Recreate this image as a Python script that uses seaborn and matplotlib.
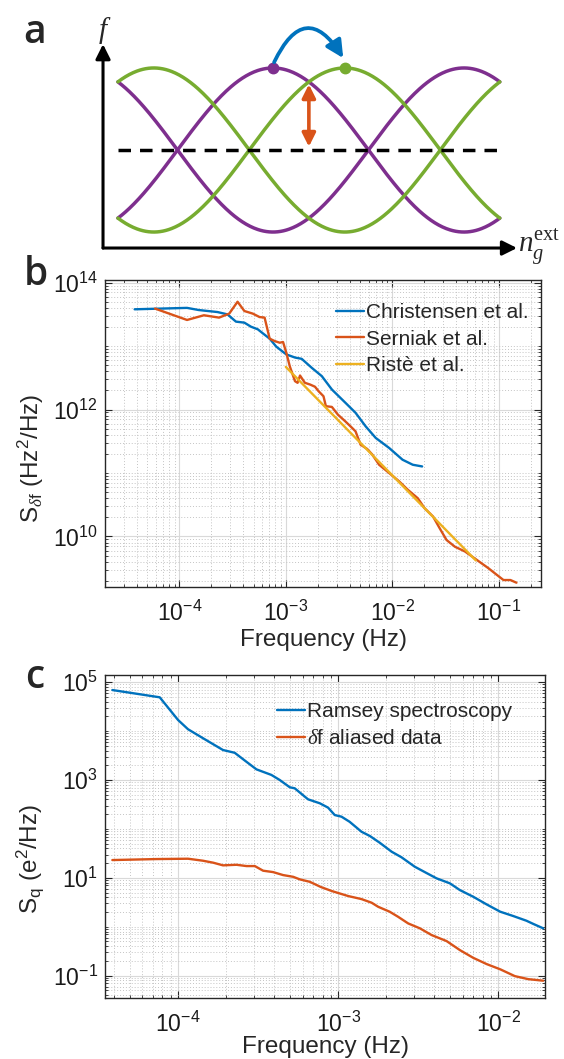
import numpy as np
import pandas as pd
import matplotlib
matplotlib.use("Agg")
import matplotlib.pyplot as plt
import seaborn as sns
from matplotlib.patches import FancyArrowPatch
from matplotlib.ticker import FixedLocator, LogLocator, LogFormatterSciNotation, NullFormatter

# ---------------- data ----------------
# (b) frequency-noise spectra
christensen_f = [3.8e-5, 1.18e-4, 1.52e-4, 2.28e-4, 2.83e-4, 3.4e-4, 4.08e-4, 4.71e-4,
                 5.45e-4, 6.08e-4, 7.05e-4, 8.14e-4, 1.01e-3, 1.22e-3, 1.41e-3, 1.75e-3,
                 2.18e-3, 2.71e-3, 3.63e-3, 4.52e-3, 5.62e-3, 7.0e-3, 9.36e-3, 1.25e-2,
                 1.56e-2, 1.91e-2]
christensen_s = [3.8e13, 4.0e13, 3.7e13, 3.44e13, 3.16e13, 2.43e13, 2.34e13, 2.02e13,
                 1.84e13, 1.59e13, 1.31e13, 9.8e12, 7.4e12, 6.6e12, 6.3e12, 4.56e12,
                 3.36e12, 2.07e12, 1.28e12, 8.9e11, 5.45e11, 3.57e11, 2.48e11, 1.62e11,
                 1.35e11, 1.27e11]

serniak_f = [5.9e-5, 1.18e-4, 1.70e-4, 2.36e-4, 2.94e-4, 3.52e-4, 4.08e-4, 4.89e-4,
             5.66e-4, 6.32e-4, 7.05e-4, 7.86e-4, 8.77e-4, 9.42e-4, 1.01e-3, 1.09e-3,
             1.22e-3, 1.29e-3, 1.36e-3, 1.51e-3, 1.69e-3, 1.88e-3, 2.03e-3, 2.26e-3,
             2.38e-3, 2.71e-3, 3.09e-3, 3.63e-3, 4.05e-3, 4.52e-3, 5.04e-3, 5.82e-3,
             6.5e-3, 7.53e-3, 9.36e-3, 1.16e-2, 1.40e-2, 1.74e-2, 2.01e-2, 2.42e-2,
             2.79e-2, 3.24e-2, 3.88e-2, 4.83e-2, 6.24e-2, 8.04e-2, 9.66e-2, 0.111,
             0.129, 0.147]
serniak_s = [3.9e13, 2.58e13, 3.06e13, 2.81e13, 3.25e13, 5.0e13, 3.57e13, 3.25e13,
             2.87e13, 2.81e13, 1.31e13, 1.20e13, 1.13e13, 1.16e13, 7.9e12, 4.8e12,
             2.8e12, 2.64e12, 3.44e12, 2.64e12, 2.48e12, 2.29e12, 1.95e12, 1.62e12,
             1.13e12, 1.10e12, 8.3e11, 6.5e11, 5.45e11, 4.54e11, 2.8e11, 2.39e11,
             1.95e11, 1.35e11, 1.0e11, 7.4e10, 5.45e10, 4.0e10, 2.8e10, 2.06e10,
             1.35e10, 8.8e9, 6.9e9, 5.8e9, 4.27e9, 3.15e9, 2.47e9, 2.06e9,
             2.06e9, 1.87e9]

riste_f = [1.0e-3, 6.1e-2]
riste_s = [4.7e12, 4.2e9]

# (c) charge-noise spectra
ramsey_f = [3.89e-5, 7.69e-5, 1.0e-4, 1.155e-4, 1.47e-4, 1.91e-4, 2.26e-4, 2.67e-4,
            3.09e-4, 3.83e-4, 4.32e-4, 4.99e-4, 5.36e-4, 6.49e-4, 7.69e-4, 8.66e-4,
            9.53e-4, 1.05e-3, 1.18e-3, 1.40e-3, 1.58e-3, 1.82e-3, 2.16e-3, 2.49e-3,
            3.01e-3, 3.48e-3, 4.12e-3, 4.99e-3, 5.76e-3, 6.98e-3, 8.46e-3, 1.03e-2,
            1.24e-2, 1.50e-2, 1.66e-2, 1.91e-2]
ramsey_s = [6.9e4, 4.9e4, 1.69e4, 1.09e4, 6.8e3, 4.1e3, 3.6e3, 2.37e3,
            1.65e3, 1.27e3, 1.0e3, 710, 676, 403, 334, 272,
            192, 178, 140, 87.6, 71.6, 52.2, 34.2, 26.3,
            16.9, 13.1, 9.77, 7.73, 5.63, 4.11, 2.87, 2.03,
            1.66, 1.33, 1.14, 0.93]

aliased_f = [3.89e-5, 7.33e-5, 1.155e-4, 1.43e-4, 1.66e-4, 1.91e-4, 2.32e-4, 2.68e-4,
             3.02e-4, 3.40e-4, 3.93e-4, 4.53e-4, 5.24e-4, 5.77e-4, 6.66e-4, 7.80e-4,
             9.14e-4, 1.155e-3, 1.40e-3, 1.62e-3, 1.78e-3, 2.10e-3, 2.37e-3, 2.74e-3,
             3.24e-3, 3.84e-3, 4.76e-3, 5.76e-3, 6.98e-3, 8.46e-3, 1.03e-2, 1.27e-2,
             1.54e-2, 1.91e-2]
aliased_s = [23.1, 24.2, 24.6, 22.4, 20.4, 18.0, 18.5, 17.4,
             17.4, 14.0, 13.1, 11.4, 10.5, 9.3, 8.3, 6.5,
             5.37, 4.25, 3.68, 3.1, 2.56, 2.03, 1.6, 1.17,
             0.93, 0.676, 0.51, 0.334, 0.232, 0.173, 0.135, 0.098,
             0.085, 0.079]

# (a) schematic: two parity bands, each a pair of cosine branches
band_names = ["purple", "green"]
band_peak = [0.406, 0.594]          # position of each band's upper maximum (in periods)
split_u = 0.5                       # where the splitting arrow is drawn

BLUE, ORANGE, YELLOW = "#0072BD", "#D95319", "#EDB120"
PURPLE, GREEN = "#7E2F8E", "#77AC30"
AXC = "#262626"

# ---------------- style ----------------
sns.set_theme(style="ticks")
plt.rcParams["font.family"] = ["Liberation Sans", "DejaVu Sans"]
plt.rcParams["mathtext.fontset"] = "custom"
plt.rcParams["mathtext.default"] = "regular"
plt.rcParams["mathtext.rm"] = "Liberation Serif"
plt.rcParams["mathtext.it"] = "Liberation Serif:italic"
plt.rcParams["axes.unicode_minus"] = False

W, H = 564, 1059
fig = plt.figure(figsize=(W / 100, H / 100), dpi=100)
fig.patch.set_facecolor("white")


def px_axes(left, top, right, bottom):
    return fig.add_axes([left / W, 1 - bottom / H, (right - left) / W, (bottom - top) / H])


def style_log_axes(ax, xlim, ylim, xmajor, ymajor):
    ax.set_xscale("log")
    ax.set_yscale("log")
    ax.set_xlim(xlim)
    ax.set_ylim(ylim)
    ax.set_facecolor("white")
    for axis, major in ((ax.xaxis, xmajor), (ax.yaxis, ymajor)):
        axis.set_major_locator(FixedLocator(major))
        axis.set_major_formatter(LogFormatterSciNotation())
        axis.set_minor_locator(LogLocator(base=10, subs=np.arange(1, 10), numticks=200))
        axis.set_minor_formatter(NullFormatter())
    ax.grid(which="major", color="#d9d9d9", lw=0.8, ls="-")
    ax.grid(which="minor", color="#c4c4c4", lw=0.7, ls=(0, (1, 2)))
    ax.set_axisbelow(True)
    ax.tick_params(which="both", direction="in", top=True, right=True,
                   color=AXC, labelcolor="#1a1a1a")
    ax.tick_params(which="major", length=5, width=0.8, labelsize=16.5)
    ax.tick_params(axis="x", which="major", pad=10)
    ax.tick_params(axis="y", which="major", pad=5)
    ax.tick_params(which="minor", length=2.5, width=0.6)
    for sp in ax.spines.values():
        sp.set_color(AXC)
        sp.set_linewidth(1.0)


def draw_series(ax, f, s, name, color, lw=1.7):
    df = pd.DataFrame({"Frequency": f, "S": s, "series": name})
    sns.lineplot(data=df, x="Frequency", y="S", ax=ax, color=color, lw=lw,
                 sort=False, estimator=None, label=name)


# ---------------- (a) schematic ----------------
ax_a = px_axes(95, 40, 530, 260)
ax_a.set_xlim(-0.060, 1.079)
ax_a.set_ylim(-1.341, 1.341)
ax_a.axis("off")

u = np.linspace(0.0, 1.0, 400)
band_colors = {"purple": PURPLE, "green": GREEN}
rows = []
for name, u0 in zip(band_names, band_peak):
    upper = np.cos(2 * np.pi * (u - u0))
    rows.append(pd.DataFrame({"u": u, "f": upper, "branch": name + "+", "band": name}))
    rows.append(pd.DataFrame({"u": u, "f": -upper, "branch": name + "-", "band": name}))
bands = pd.concat(rows, ignore_index=True)
sns.lineplot(data=bands, x="u", y="f", hue="band", units="branch", estimator=None,
             palette=band_colors, lw=2.5, sort=False, legend=False, ax=ax_a)

ax_a.plot([0, 1], [0, 0], color="black", lw=2.5, ls=(0, (3.6, 2.6)))

# coordinate arrows
y_axis_u, x_axis_f = -0.039, -1.195
ax_a.annotate("", xy=(y_axis_u, 1.29), xytext=(y_axis_u, x_axis_f),
              arrowprops=dict(arrowstyle="-|>", color="black", lw=2.2, mutation_scale=22,
                              shrinkA=0, shrinkB=0), annotation_clip=False)
ax_a.annotate("", xy=(1.045, x_axis_f), xytext=(y_axis_u, x_axis_f),
              arrowprops=dict(arrowstyle="-|>", color="black", lw=2.2, mutation_scale=22,
                              shrinkA=0, shrinkB=0), annotation_clip=False)

# band maxima
ax_a.plot([band_peak[0]], [1], "o", color=PURPLE, ms=7.5, zorder=5)
ax_a.plot([band_peak[1]], [1], "o", color=GREEN, ms=7.5, zorder=5)

# parity switch arrow
hop = FancyArrowPatch((band_peak[0] + 0.003, 1.07), (band_peak[1] - 0.004, 1.12),
                      connectionstyle="arc3,rad=-0.9", arrowstyle="-|>",
                      mutation_scale=26, lw=2.7, color=BLUE, shrinkA=0, shrinkB=0,
                      zorder=6, clip_on=False)
ax_a.add_patch(hop)

# splitting arrow
split_top = np.cos(2 * np.pi * (split_u - band_peak[0]))
ax_a.annotate("", xy=(split_u, split_top - 0.03), xytext=(split_u, 0.04),
              arrowprops=dict(arrowstyle="<|-|>", color=ORANGE, lw=2.6, mutation_scale=20,
                              shrinkA=0, shrinkB=0))

fig.text(105 / W, 1 - 30 / H, r"$\mathit{f}$", fontsize=21, ha="center", va="center")
fig.text(518 / W, 1 - 247 / H, r"$\mathit{n}_{\mathit{g}}^{\mathrm{ext}}$", fontsize=21,
         ha="left", va="center")

# ---------------- (b) frequency noise ----------------
ax_b = px_axes(105, 280, 541, 587)
draw_series(ax_b, christensen_f, christensen_s, "Christensen et al.", BLUE)
draw_series(ax_b, serniak_f, serniak_s, "Serniak et al.", ORANGE)
draw_series(ax_b, riste_f, riste_s, "Ristè et al.", YELLOW)
style_log_axes(ax_b, (2e-5, 0.25), (1.6e9, 1.1e14),
               [1e-4, 1e-3, 1e-2, 1e-1], [1e10, 1e12, 1e14])
ax_b.set_xlabel("Frequency (Hz)", fontsize=17.5, labelpad=2)
ax_b.set_ylabel(r"S$_{\mathit{\delta}f}$ (Hz$^2$/Hz)", fontsize=17.5)
ax_b.yaxis.set_label_coords(-0.135, 0.42)
ax_b.legend(loc="upper left", bbox_to_anchor=(0.53, 0.925), frameon=False, fontsize=15,
            handlelength=1.35, handletextpad=0.1, labelspacing=0.36, borderpad=0,
            borderaxespad=0)

# ---------------- (c) charge noise ----------------
ax_c = px_axes(105, 675, 545, 998)
draw_series(ax_c, ramsey_f, ramsey_s, "Ramsey spectroscopy", BLUE)
draw_series(ax_c, aliased_f, aliased_s, r"$\mathit{\delta}$f aliased data", ORANGE)
style_log_axes(ax_c, (3.5e-5, 0.0196), (0.035, 1.4e5),
               [1e-4, 1e-3, 1e-2], [1e-1, 1e1, 1e3, 1e5])
ax_c.set_xlabel("Frequency (Hz)", fontsize=17.5, labelpad=-1)
ax_c.set_ylabel(r"S$_q$ (e$^2$/Hz)", fontsize=17.5)
ax_c.yaxis.set_label_coords(-0.135, 0.43)
ax_c.legend(loc="upper left", bbox_to_anchor=(0.39, 0.915), frameon=False, fontsize=15,
            handlelength=1.35, handletextpad=0.1, labelspacing=0.36, borderpad=0,
            borderaxespad=0)

# panel letters
for letter, (x, y) in zip("abc", [(35, 33), (36, 275), (35, 678)]):
    fig.text(x / W, 1 - y / H, letter, fontsize=28, family=["Open Sans", "DejaVu Sans"],
             weight="semibold", ha="center", va="center")

fig.savefig("out.png", dpi=100, facecolor="white")
